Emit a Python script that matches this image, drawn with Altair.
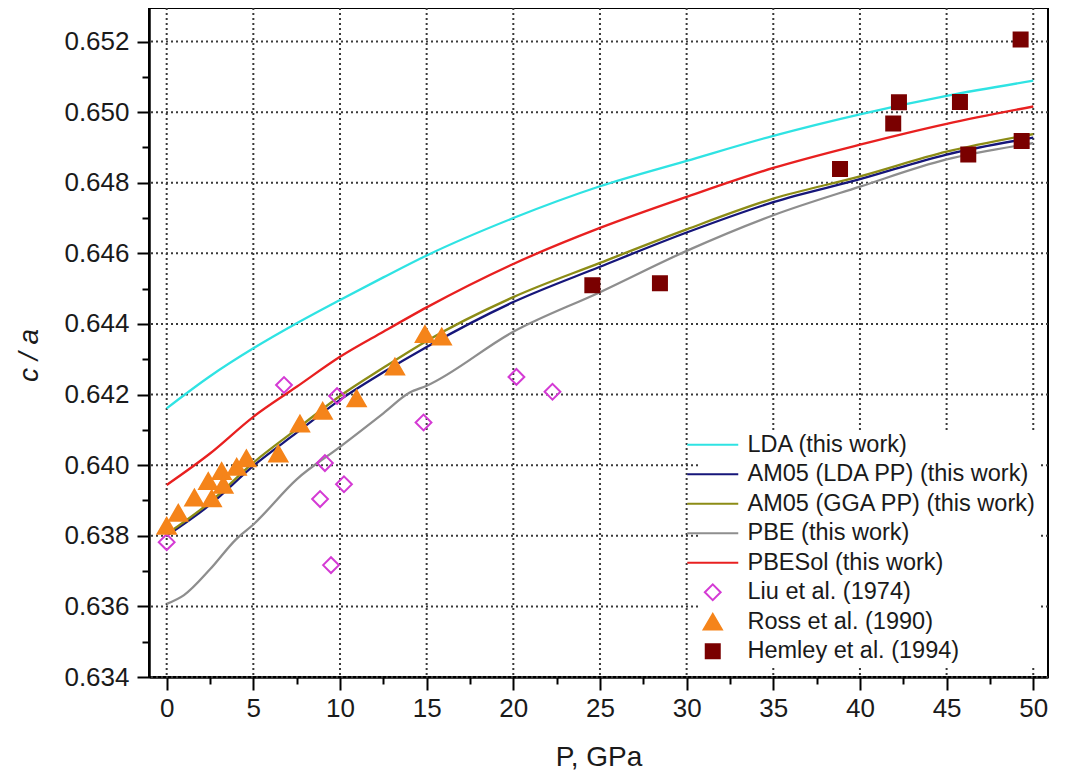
import altair as alt
import pandas as pd

FONT = "Liberation Sans, Arial, Helvetica, sans-serif"
TXT = "#1a1a1a"

names = [
    "LDA (this work)",
    "AM05 (LDA PP) (this work)",
    "AM05 (GGA PP) (this work)",
    "PBE (this work)",
    "PBESol (this work)",
    "Liu et al. (1974)",
    "Ross et al. (1990)",
    "Hemley et al. (1994)",
]
colors = ["#2fe3e3", "#16167a", "#8c8c16", "#8e8e8e", "#e82020", "#d43ad4", "#f5841a", "#7a0000"]
fills = ["transparent"] * 6 + ["#f5841a", "#7a0000"]
LINE_GLYPH = "M-5.1,0H5.1"
shapes = [LINE_GLYPH] * 5 + ["diamond", "triangle-up", "square"]
sizes = [100] * 5 + [250, 330, 196]

# calculated curves
P_grid = [0, 2.5, 5, 7.5, 10, 12.5, 15, 20, 25, 30, 35, 40, 45, 50]
lda = [0.64161, 0.64252, 0.64331, 0.64402, 0.64468, 0.64532, 0.64594, 0.64700,
       0.64790, 0.64862, 0.64933, 0.64994, 0.65046, 0.65089]
am05_lda = [0.63800, 0.63888, 0.63998, 0.64092, 0.64185, 0.64263, 0.64335, 0.64462,
            0.64562, 0.64659, 0.64745, 0.64810, 0.64880, 0.64928]
am05_gga = [0.63805, 0.63895, 0.64007, 0.64102, 0.64196, 0.64276, 0.64352, 0.64476,
            0.64573, 0.64668, 0.64755, 0.64818, 0.64888, 0.64938]
pbesol = [0.63944, 0.64033, 0.64137, 0.64222, 0.64307, 0.64378, 0.64447, 0.64570,
          0.64672, 0.64760, 0.64842, 0.64908, 0.64967, 0.65016]
P_pbe = [0, 1, 2.5, 4, 5, 7.5, 10, 12.5, 14, 15, 20, 25, 30, 35, 40, 45, 50]
pbe = [0.63607, 0.63632, 0.63705, 0.63790, 0.63832, 0.63960, 0.64052, 0.64147, 0.64205,
       0.64225, 0.64378, 0.64490, 0.64607, 0.64708, 0.64789, 0.64866, 0.64912]

# experimental points
liu_P = [0, 6.77, 9.83, 9.13, 8.85, 10.23, 9.48, 14.82, 20.18, 22.26]
liu_ca = [0.63782, 0.64227, 0.64196, 0.64006, 0.63904, 0.63946, 0.63717, 0.64121, 0.64250, 0.64208]
ross_P = [0, 0.67, 1.6, 2.4, 2.6, 3.17, 3.27, 4.04, 4.6, 6.44, 7.69, 9.0, 10.96, 13.17, 14.9, 15.87]
ross_ca = [0.63828, 0.63865, 0.63908, 0.63955, 0.63906, 0.63983, 0.63944, 0.63995, 0.64019,
           0.64033, 0.64118, 0.64154, 0.64189, 0.64279, 0.64371, 0.64364]
hem_P = [24.56, 28.46, 38.85, 41.92, 42.25, 45.77, 46.25, 49.27, 49.33]
hem_ca = [0.64510, 0.64515, 0.64839, 0.64968, 0.65028, 0.65029, 0.64880, 0.65206, 0.64918]

# ticks (major + minor) and grid positions (major)
x_ticks = [0, 2.5, 5, 7.5, 10, 12.5, 15, 17.5, 20, 22.5, 25, 27.5, 30, 32.5, 35, 37.5,
           40, 42.5, 45, 47.5, 50]
y_ticks = [0.634, 0.635, 0.636, 0.637, 0.638, 0.639, 0.640, 0.641, 0.642, 0.643, 0.644,
           0.645, 0.646, 0.647, 0.648, 0.649, 0.650, 0.651, 0.652]
x_major = [0, 5, 10, 15, 20, 25, 30, 35, 40, 45, 50]
y_major = [0.634, 0.636, 0.638, 0.640, 0.642, 0.644, 0.646, 0.648, 0.650, 0.652]

curve_order = [(names[3], P_pbe, pbe), (names[1], P_grid, am05_lda), (names[2], P_grid, am05_gga),
               (names[4], P_grid, pbesol), (names[0], P_grid, lda)]
line_rows = []
for nm, ps, vs in curve_order:
    for p, v in zip(ps, vs):
        line_rows.append({"P": p, "ca": v, "name": nm})
line_df = pd.DataFrame(line_rows)

pt_rows = []
for nm, ps, vs in [(names[5], liu_P, liu_ca), (names[6], ross_P, ross_ca), (names[7], hem_P, hem_ca)]:
    for p, v in zip(ps, vs):
        pt_rows.append({"P": p, "ca": v, "name": nm})
pt_df = pd.DataFrame(pt_rows)

xscale = alt.Scale(domain=[-1.02, 50.85], nice=False, zero=False)
yscale = alt.Scale(domain=[0.634, 0.65295], nice=False, zero=False)

common_axis = dict(
    grid=False,
    domainColor="black", domainWidth=2.5, tickColor="black", tickWidth=2,
    labelFont=FONT, labelFontSize=26, labelColor=TXT,
    titleFont=FONT, titleFontSize=28, titleFontWeight="normal", titleColor=TXT,
)

XMAJ = "datum.value % 5 === 0"
YMAJ = "round(datum.value * 1000) % 2 === 0"

xaxis = alt.Axis(
    values=x_ticks,
    labelExpr=f"{XMAJ} ? datum.label : ''",
    tickSize={"condition": {"test": XMAJ, "value": 13}, "value": 7},
    labelPadding=5, title="P, GPa", titlePadding=22, labelFlush=False,
    **common_axis,
)
yaxis = alt.Axis(
    values=y_ticks,
    format=".3f",
    labelExpr=f"{YMAJ} ? datum.label : ''",
    tickSize={"condition": {"test": YMAJ, "value": 12}, "value": 7},
    labelPadding=8, title="c / a", titleFontStyle="italic", titleX=-106, titleY=347,
    labelFlush=False,
    **common_axis,
)

legend = alt.Legend(
    title=None, orient="none", legendX=549, legendY=422, padding=3, fillColor="white",
    labelFont=FONT, labelFontSize=23.5, labelColor=TXT, labelOffset=23, labelLimit=500,
    rowPadding=4.5, symbolStrokeWidth=2,
)

grid_style = dict(color="#3a3a3a", strokeDash=[2, 3], strokeWidth=2, opacity=1)
grid_x = alt.Chart(pd.DataFrame({"gx": x_major})).mark_rule(**grid_style).encode(
    x=alt.X("gx:Q", scale=xscale, axis=xaxis),
)
grid_y = alt.Chart(pd.DataFrame({"gy": y_major})).mark_rule(**grid_style).encode(
    y=alt.Y("gy:Q", scale=yscale, axis=yaxis),
)

stroke_enc = alt.Stroke("name:N", scale=alt.Scale(domain=names, range=colors), legend=legend)

lines = alt.Chart(line_df).mark_line(strokeWidth=2.3, interpolate="monotone").encode(
    x=alt.X("P:Q", scale=xscale, axis=xaxis),
    y=alt.Y("ca:Q", scale=yscale, axis=yaxis),
    stroke=stroke_enc,
)

points = alt.Chart(pt_df).mark_point(strokeWidth=2, opacity=1).encode(
    x=alt.X("P:Q", scale=xscale, axis=xaxis),
    y=alt.Y("ca:Q", scale=yscale, axis=yaxis),
    stroke=stroke_enc,
    fill=alt.Fill("name:N", scale=alt.Scale(domain=names, range=fills), legend=legend),
    shape=alt.Shape("name:N", scale=alt.Scale(domain=names, range=shapes), legend=legend),
    size=alt.Size("name:N", scale=alt.Scale(domain=names, range=sizes, type="ordinal"), legend=legend),
)

chart = alt.layer(grid_x, grid_y, lines, points).properties(
    width=899, height=669,
    autosize=alt.AutoSizeParams(type="none"),
    padding={"left": 141, "top": 0, "right": 12, "bottom": 95},
    background="white",
).configure_view(stroke="black", strokeWidth=2)

chart.save("out.html", embed_options={"renderer": "svg", "actions": False})
